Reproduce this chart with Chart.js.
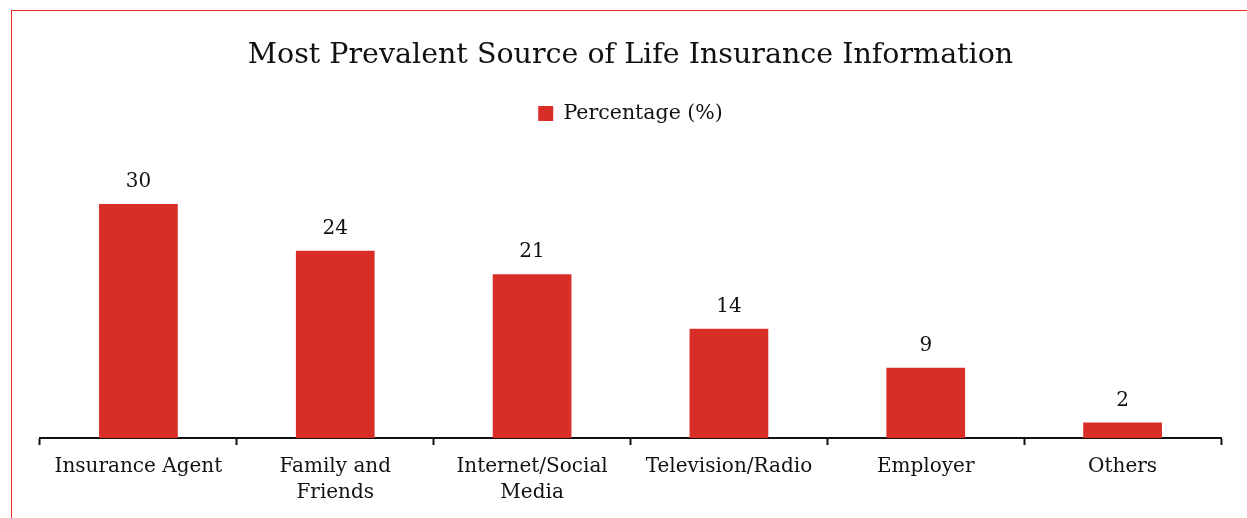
<!DOCTYPE html>
<html>
<head>
<meta charset="utf-8">
<script src="https://cdn.jsdelivr.net/npm/chart.js@4/dist/chart.umd.min.js"></script>
<style>
  html, body { margin: 0; padding: 0; background: #fff; overflow: hidden; }
  #wrap { position: relative; width: 1247px; height: 518px; }
  #frame { position: absolute; left: 11px; top: 10px; width: 1400px; height: 600px;
           border-left: 1.5px solid #ee2a24; border-top: 1.5px solid #ee2a24; pointer-events: none; }
</style>
</head>
<body>
<div id="wrap">
  <canvas id="graph" width="1247" height="518"></canvas>
  <div id="frame"></div>
</div>
<script>
// chart values
const categories = ['Insurance Agent', ['Family and', 'Friends'], ['Internet/Social', 'Media'], 'Television/Radio', 'Employer', 'Others'];
const percentages = [30, 24, 21, 14, 9, 2];
const seriesName = 'Percentage (%)';
const chartTitle = 'Most Prevalent Source of Life Insurance Information';
const barColor = '#d92e28';
const fontName = "'DejaVu Serif', 'Liberation Serif', serif";

// draws the number above each bar
const valueLabels = {
    id: 'valueLabels',
    afterDatasetsDraw(chart) {
        const ctx = chart.ctx;
        const meta = chart.getDatasetMeta(0);
        ctx.save();
        ctx.font = '20px ' + fontName;
        ctx.fillStyle = '#111';
        ctx.textAlign = 'center';
        ctx.textBaseline = 'middle';
        meta.data.forEach(function (bar, i) {
            ctx.fillText(percentages[i], bar.x, bar.y - 22);
        });
        ctx.restore();
    }
};

let config = {
    type: 'bar',
    data: {
        labels: categories,
        datasets: [{
            label: seriesName,
            data: percentages,
            backgroundColor: barColor,
            borderWidth: 0,
            categoryPercentage: 0.8,
            barPercentage: 0.5
        }]
    },
    options: {
        responsive: false,
        animation: false,
        layout: { padding: { left: 40, right: 26, top: 0, bottom: 3 } },
        plugins: {
            title: {
                display: true,
                text: chartTitle,
                color: '#111',
                font: { family: fontName, size: 28.5, weight: 'normal' },
                padding: { top: 38, bottom: 21 }
            },
            legend: {
                display: true,
                position: 'top',
                labels: {
                    color: '#111',
                    font: { family: fontName, size: 20.5 },
                    boxWidth: 15,
                    boxHeight: 15
                }
            },
            tooltip: { enabled: false }
        },
        scales: {
            x: {
                grid: {
                    display: true,
                    drawOnChartArea: false,
                    drawTicks: true,
                    tickLength: 7,
                    tickWidth: 2,
                    tickColor: '#111',
                    offset: true
                },
                border: { display: true, color: '#111', width: 2 },
                ticks: {
                    color: '#111',
                    font: { family: fontName, size: 20, lineHeight: 1.3 },
                    padding: 9,
                    maxRotation: 0,
                    autoSkip: false
                }
            },
            y: {
                display: false,
                beginAtZero: true,
                min: 0,
                max: 39
            }
        }
    },
    plugins: [valueLabels]
};

let myChart = new Chart(document.getElementById('graph'), config);
</script>
</body>
</html>
